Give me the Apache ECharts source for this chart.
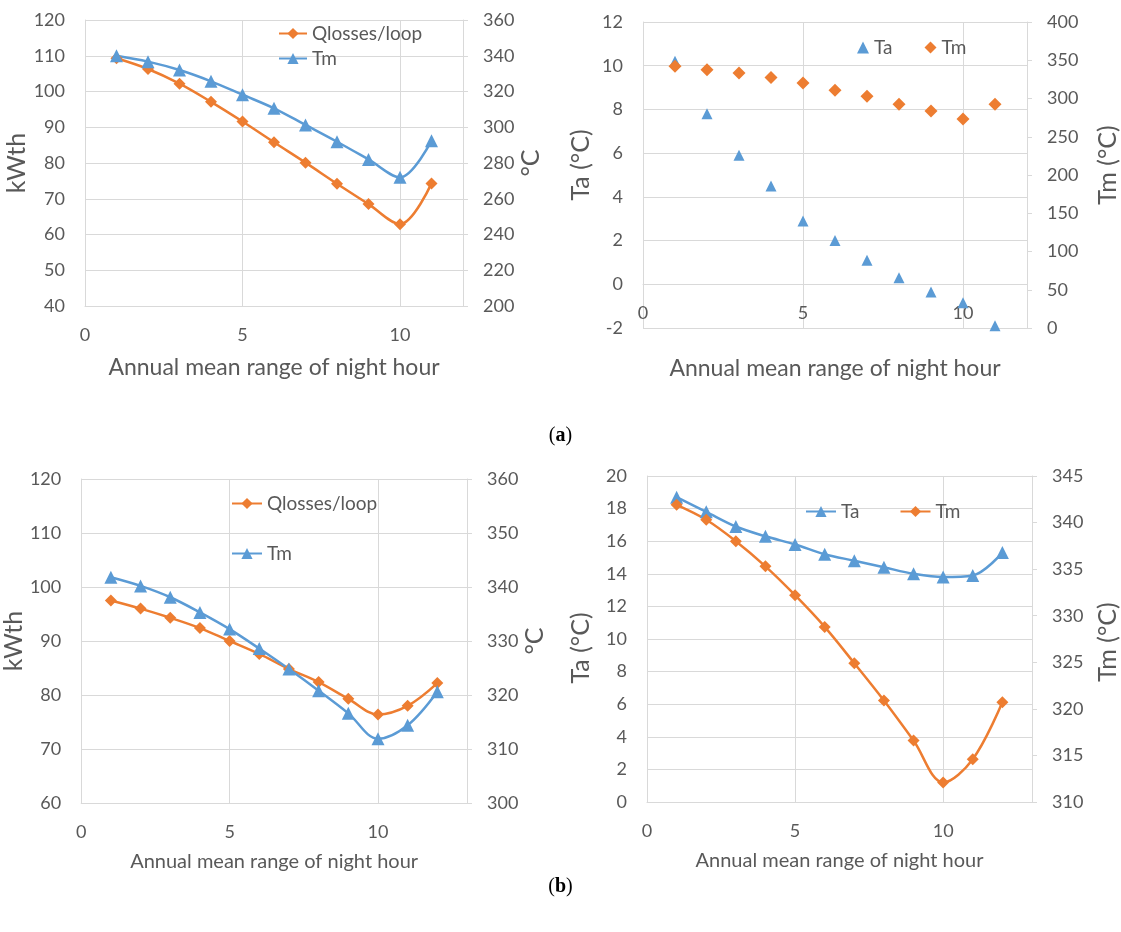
<!DOCTYPE html>
<html>
<head>
<meta charset="utf-8">
<script src="https://cdn.jsdelivr.net/npm/echarts@6/dist/echarts.min.js"></script>
<style>
  html, body { margin: 0; padding: 0; background: #ffffff; }
  #chart { width: 1121px; height: 932px; }
</style>
</head>
<body>
<div id="chart"></div>
<script>
// Night-hour steps on the x axis
const nightHoursA = [1, 2, 3, 4, 5, 6, 7, 8, 9, 10, 11];
const nightHoursB = [1, 2, 3, 4, 5, 6, 7, 8, 9, 10, 11, 12];

// (a) left: heat losses per loop (kWth) and mean fluid temperature (°C)
const qlossesA = [109.3, 106.3, 102.2, 97.1, 91.6, 85.8, 80.1, 74.2, 68.5, 62.9, 74.3];
const tmA = [340.0, 336.7, 332.0, 325.7, 318.2, 310.6, 301.3, 291.9, 282.0, 272.0, 292.5];

// (a) right: ambient temperature and mean fluid temperature
const taA2 = [10.2, 7.8, 5.9, 4.5, 2.9, 2.0, 1.1, 0.3, -0.35, -0.85, -1.9];
const tmA2 = [342.0, 337.7, 333.4, 327.3, 320.3, 310.7, 302.9, 292.4, 283.7, 273.2, 292.4];

// (b) left: heat losses per loop and mean fluid temperature
const qlossesB = [97.5, 96.0, 94.3, 92.4, 90.0, 87.6, 84.8, 82.4, 79.3, 76.4, 78.0, 82.2];
const tmB = [341.8, 340.2, 338.1, 335.3, 332.2, 328.6, 324.8, 320.8, 316.6, 311.9, 314.4, 320.6];

// (b) right: ambient temperature and mean fluid temperature
const taB2 = [18.7, 17.8, 16.9, 16.3, 15.8, 15.2, 14.8, 14.4, 14.0, 13.8, 13.9, 15.3];
const tmB2 = [341.9, 340.3, 338.0, 335.3, 332.2, 328.8, 324.9, 320.9, 316.6, 312.1, 314.6, 320.7];

const xTitle = 'Annual mean range of night hour';

const ORANGE = '#ED7D31';
const BLUE = '#5B9BD5';
const GRIDC = '#d9d9d9';
const TEXT = '#595959';
const FONT = 'Lato';

// Plot rectangles of the four panels
const grids = [
  { left: 85, top: 20, width: 378, height: 286 },
  { left: 643, top: 22, width: 386, height: 306 },
  { left: 78, top: 479, width: 389, height: 324 },
  { left: 647, top: 476, width: 387, height: 326 }
];

// Ambient-temperature range of the upper right panel (its x axis crosses at 0)
const taA2Min = -2, taA2Max = 12;
const crossOffset = -grids[1].height * (0 - taA2Min) / (taA2Max - taA2Min);

function pairs(xs, ys) { return xs.map((x, i) => [x, ys[i]]); }

function xAxisDef(gridIndex, max, nameGap, nameSize, offset) {
  return {
    type: 'value', gridIndex: gridIndex, min: 0, max: max, interval: 5,
    offset: offset || 0,
    axisLine: { show: true, onZero: false, lineStyle: { color: GRIDC, width: 1 } },
    axisTick: { show: false },
    axisLabel: { color: TEXT, fontSize: 18, fontFamily: FONT, margin: 20, showMaxLabel: false },
    splitLine: { show: true, lineStyle: { color: GRIDC, width: 1 } },
    name: xTitle, nameLocation: 'middle', nameGap: nameGap,
    nameTextStyle: { color: TEXT, fontSize: nameSize, fontFamily: FONT }
  };
}

// shift > 0 moves the rotated axis name up, < 0 moves it down
function yAxisDef(gridIndex, side, min, max, interval, name, nameGap, shift) {
  const right = side === 'right';
  const s = shift || 0;
  return {
    type: 'value', gridIndex: gridIndex, position: side, min: min, max: max, interval: interval,
    axisLine: { show: true, onZero: false, lineStyle: { color: GRIDC, width: 1 } },
    axisTick: { show: right, length: 5, lineStyle: { color: GRIDC } },
    axisLabel: { color: TEXT, fontSize: 18, fontFamily: FONT, margin: 20 },
    splitLine: { show: !right, lineStyle: { color: GRIDC, width: 1 } },
    name: name, nameLocation: 'middle', nameGap: nameGap,
    nameTextStyle: {
      color: TEXT, fontSize: 25, fontFamily: FONT,
      padding: [0, s < 0 ? -2 * s : 0, 0, s > 0 ? 2 * s : 0]
    }
  };
}

function lineSeries(name, xi, yi, data, color, symbol, size) {
  return {
    type: 'line', name: name, xAxisIndex: xi, yAxisIndex: yi, data: data,
    smooth: 0.35, symbol: symbol, symbolSize: size, showAllSymbol: true,
    lineStyle: { color: color, width: 2.5 },
    itemStyle: { color: color },
    emphasis: { disabled: true }, animation: false
  };
}

function scatterSeries(name, xi, yi, data, color, symbol, size) {
  return {
    type: 'scatter', name: name, xAxisIndex: xi, yAxisIndex: yi, data: data,
    symbol: symbol, symbolSize: size, itemStyle: { color: color, opacity: 1 },
    emphasis: { disabled: true }, animation: false
  };
}

const legendText = { color: TEXT, fontSize: 19, fontFamily: FONT };
const stripTag = name => name.split('#')[0];

const option = {
  backgroundColor: '#ffffff',
  animation: false,
  grid: grids,
  xAxis: [
    xAxisDef(0, 12, 50, 23),
    xAxisDef(1, 12, 73, 23, crossOffset),
    xAxisDef(2, 13, 49, 20),
    xAxisDef(3, 13, 49, 20)
  ],
  yAxis: [
    yAxisDef(0, 'left', 40, 120, 10, 'kWth', 54, 0),
    yAxisDef(0, 'right', 200, 360, 20, '°C', 40, 0),
    yAxisDef(1, 'left', taA2Min, taA2Max, 2, 'Ta (°C)', 50, 10),
    yAxisDef(1, 'right', 0, 400, 50, 'Tm (°C)', 68, 10),
    yAxisDef(2, 'left', 60, 120, 10, 'kWth', 53, 0),
    yAxisDef(2, 'right', 300, 360, 10, '°C', 33, 0),
    yAxisDef(3, 'left', 0, 20, 2, 'Ta (°C)', 54, -9),
    yAxisDef(3, 'right', 310, 345, 5, 'Tm (°C)', 63, -3)
  ],
  legend: [
    {
      data: ['Qlosses/loop#a', 'Tm#a'], orient: 'vertical', left: 278, top: 24, padding: 0,
      itemWidth: 28, itemHeight: 14, itemGap: 6, formatter: stripTag, textStyle: legendText,
      selectedMode: false
    },
    {
      data: ['Ta#a2', 'Tm#a2'], orient: 'horizontal', left: 857, top: 38, padding: 0,
      itemWidth: 12, itemHeight: 12, itemGap: 32, formatter: stripTag, textStyle: legendText,
      selectedMode: false
    },
    {
      data: ['Qlosses/loop#b', 'Tm#b'], orient: 'vertical', left: 231, top: 494, padding: 0,
      itemWidth: 30, itemHeight: 14, itemGap: 31, formatter: stripTag, textStyle: legendText,
      selectedMode: false
    },
    {
      data: ['Ta#b2', 'Tm#b2'], orient: 'horizontal', left: 805, top: 502, padding: 0,
      itemWidth: 30, itemHeight: 14, itemGap: 40, formatter: stripTag, textStyle: legendText,
      selectedMode: false
    }
  ],
  series: [
    lineSeries('Qlosses/loop#a', 0, 0, pairs(nightHoursA, qlossesA), ORANGE, 'diamond', 12),
    lineSeries('Tm#a', 0, 1, pairs(nightHoursA, tmA), BLUE, 'triangle', 13),
    scatterSeries('Ta#a2', 1, 2, pairs(nightHoursA, taA2), BLUE, 'triangle', 11),
    scatterSeries('Tm#a2', 1, 3, pairs(nightHoursA, tmA2), ORANGE, 'diamond', 13),
    lineSeries('Qlosses/loop#b', 2, 4, pairs(nightHoursB, qlossesB), ORANGE, 'diamond', 12),
    lineSeries('Tm#b', 2, 5, pairs(nightHoursB, tmB), BLUE, 'triangle', 13),
    lineSeries('Ta#b2', 3, 6, pairs(nightHoursB, taB2), BLUE, 'triangle', 13),
    lineSeries('Tm#b2', 3, 7, pairs(nightHoursB, tmB2), ORANGE, 'diamond', 12)
  ],
  graphic: [
    {
      type: 'text', left: 'center', top: 426,
      style: {
        text: '{n|(}{b|a}{n|)}',
        rich: {
          n: { fontFamily: 'Liberation Serif', fontSize: 20, fill: '#000' },
          b: { fontFamily: 'Liberation Serif', fontSize: 20, fontWeight: 'bold', fill: '#000' }
        }
      }
    },
    {
      type: 'text', left: 'center', top: 877,
      style: {
        text: '{n|(}{b|b}{n|)}',
        rich: {
          n: { fontFamily: 'Liberation Serif', fontSize: 20, fill: '#000' },
          b: { fontFamily: 'Liberation Serif', fontSize: 20, fontWeight: 'bold', fill: '#000' }
        }
      }
    }
  ]
};

const chart = echarts.init(document.getElementById('chart'), null, { renderer: 'canvas' });
chart.setOption(option);
</script>
</body>
</html>
